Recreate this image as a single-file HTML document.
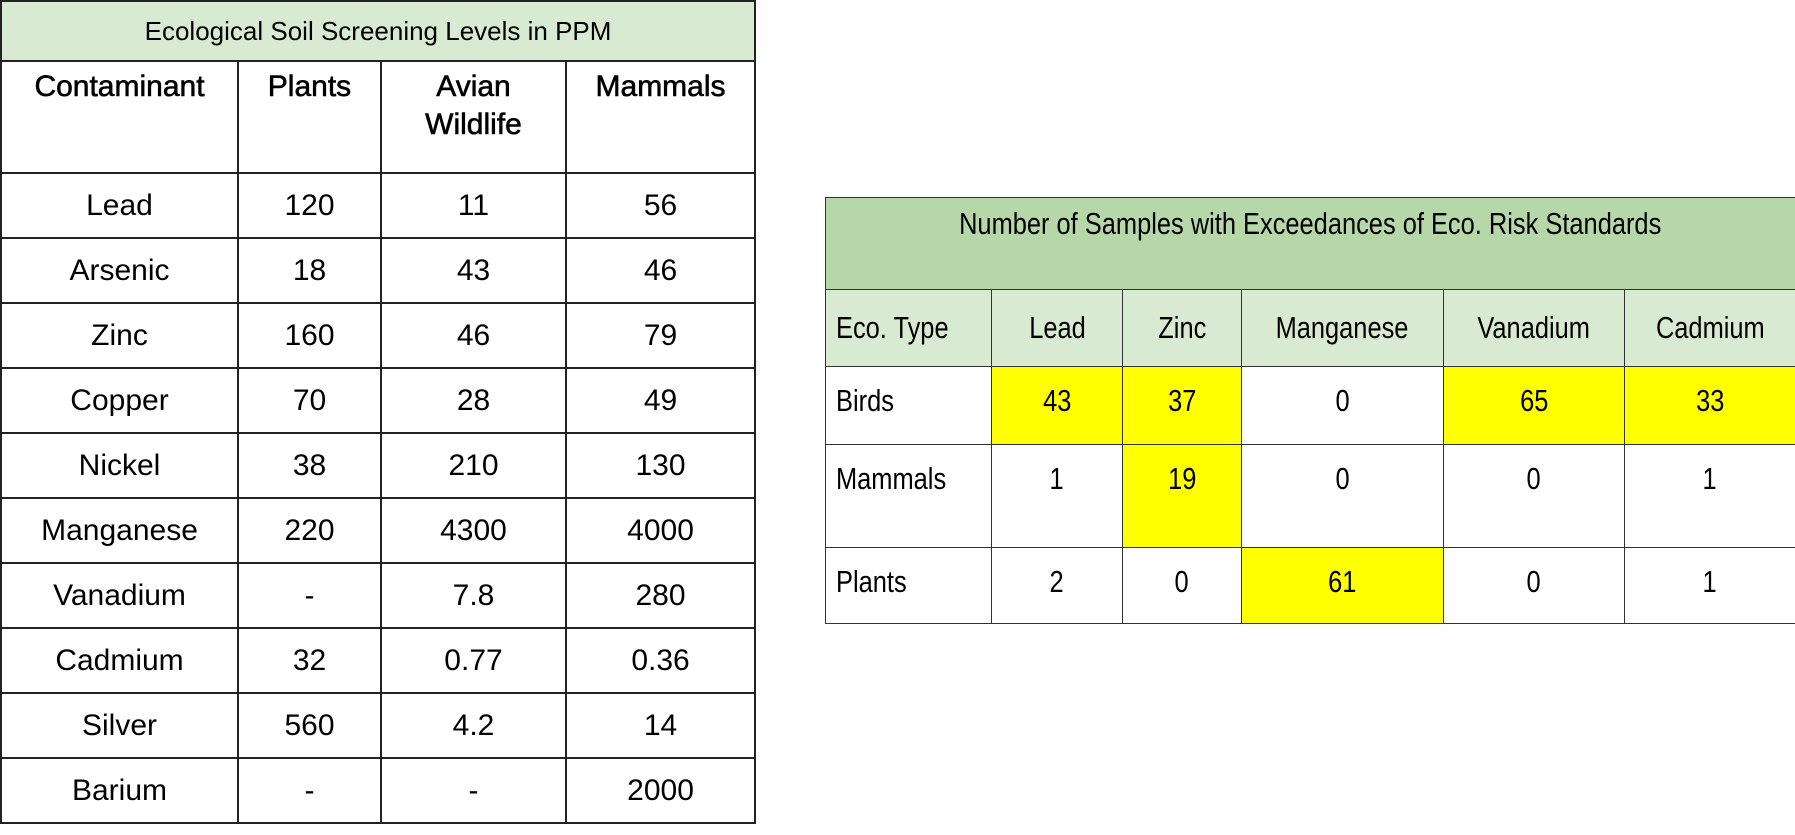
<!DOCTYPE html>
<html><head><meta charset="utf-8"><style>
body{margin:0;width:1795px;height:835px;background:#fff;position:relative;overflow:hidden;font-family:"Liberation Sans",sans-serif;color:#000}
table{border-collapse:collapse;position:absolute;table-layout:fixed}
td{border:2px solid #222;padding:0;text-align:center}
#t1{left:0;top:0;width:754px}
#t1 td{font-size:30px;height:63px}
#t1 .title{background:#d9ead3;font-size:26px;height:58px}
#t1 .hdr td{vertical-align:top;padding-top:6px;height:104px;font-weight:normal;-webkit-text-stroke:0.6px #000;line-height:38px}
#t2{left:825px;top:197px;width:970px}
#t2 td{border:1.5px solid #333;font-size:31px;vertical-align:top}
#t2 td span{display:inline-block;transform:scaleX(0.82);transform-origin:center}
#t2 td.l{text-align:left;padding-left:10px}
#t2 td.l span{transform-origin:left}
#t2 .title{background:#b6d7a8;height:83px;padding-top:8px}
#t2 .hdr td{background:#d9ead3;height:76px;vertical-align:middle}
.y{background:#ffff00}
</style></head><body>
<table id="t1">
<colgroup><col style="width:237px"><col style="width:143px"><col style="width:185px"><col style="width:189px"></colgroup>
<tr><td colspan="4" class="title">Ecological Soil Screening Levels in PPM</td></tr>
<tr class="hdr"><td>Contaminant</td><td>Plants</td><td>Avian<br>Wildlife</td><td>Mammals</td></tr>
<tr><td>Lead</td><td>120</td><td>11</td><td>56</td></tr>
<tr><td>Arsenic</td><td>18</td><td>43</td><td>46</td></tr>
<tr><td>Zinc</td><td>160</td><td>46</td><td>79</td></tr>
<tr><td>Copper</td><td>70</td><td>28</td><td>49</td></tr>
<tr><td>Nickel</td><td>38</td><td>210</td><td>130</td></tr>
<tr><td>Manganese</td><td>220</td><td>4300</td><td>4000</td></tr>
<tr><td>Vanadium</td><td>-</td><td>7.8</td><td>280</td></tr>
<tr><td>Cadmium</td><td>32</td><td>0.77</td><td>0.36</td></tr>
<tr><td>Silver</td><td>560</td><td>4.2</td><td>14</td></tr>
<tr><td>Barium</td><td>-</td><td>-</td><td>2000</td></tr>
</table>
<table id="t2">
<colgroup><col style="width:166px"><col style="width:131px"><col style="width:119px"><col style="width:202px"><col style="width:181px"><col style="width:171px"></colgroup>
<tr><td colspan="6" class="title"><span>Number of Samples with Exceedances of Eco. Risk Standards</span></td></tr>
<tr class="hdr"><td class="l"><span>Eco. Type</span></td><td><span>Lead</span></td><td><span>Zinc</span></td><td><span>Manganese</span></td><td><span>Vanadium</span></td><td><span>Cadmium</span></td></tr>
<tr style="height:78px"><td class="l" style="padding-top:16px"><span>Birds</span></td><td class="y" style="padding-top:16px"><span>43</span></td><td class="y" style="padding-top:16px"><span>37</span></td><td style="padding-top:16px"><span>0</span></td><td class="y" style="padding-top:16px"><span>65</span></td><td class="y" style="padding-top:16px"><span>33</span></td></tr>
<tr style="height:103px"><td class="l" style="padding-top:16px"><span>Mammals</span></td><td style="padding-top:16px"><span>1</span></td><td class="y" style="padding-top:16px"><span>19</span></td><td style="padding-top:16px"><span>0</span></td><td style="padding-top:16px"><span>0</span></td><td style="padding-top:16px"><span>1</span></td></tr>
<tr style="height:76px"><td class="l" style="padding-top:16px"><span>Plants</span></td><td style="padding-top:16px"><span>2</span></td><td style="padding-top:16px"><span>0</span></td><td class="y" style="padding-top:16px"><span>61</span></td><td style="padding-top:16px"><span>0</span></td><td style="padding-top:16px"><span>1</span></td></tr>
</table>
</body></html>
